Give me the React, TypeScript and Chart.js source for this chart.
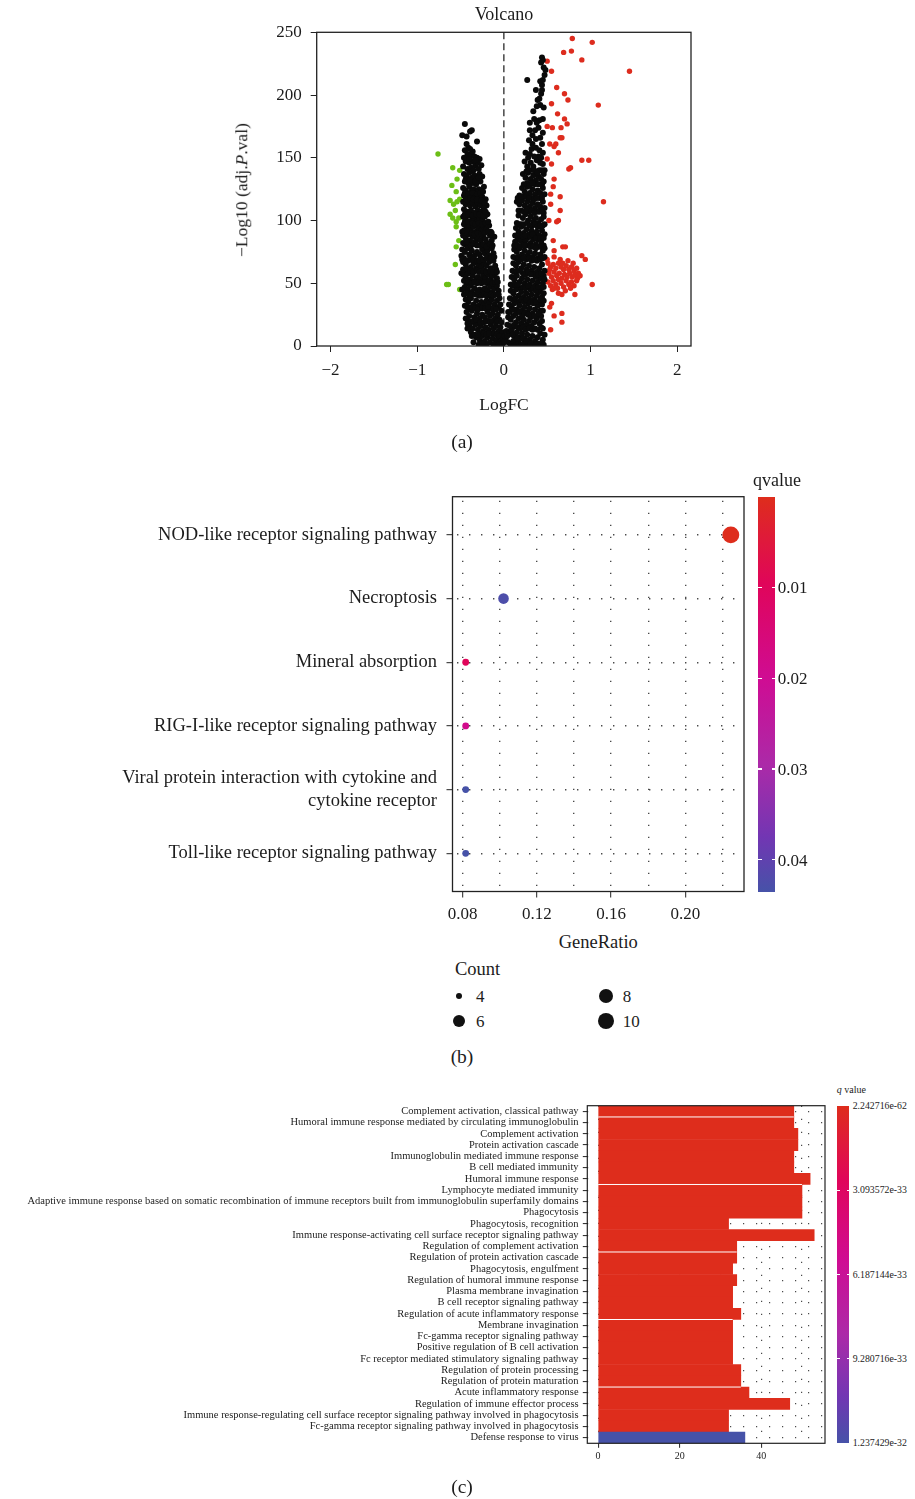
import React, { useEffect, useRef } from "react";
import { Chart, registerables } from "chart.js";
Chart.register(...registerables);

const FONT = "'Liberation Serif', 'Times New Roman', serif";
const TXT = "#1c1c1c";
const RED = "#DD2C1E";
const GREEN = "#6CBE16";

// ---------------- Panel (a): volcano ----------------
const volcanoXTicks = [-2, -1, 0, 1, 2];
const volcanoYTicks = [0, 50, 100, 150, 200, 250];

const volcanoNsLeft: [number, number][] = [
  [-0.45,177],[-0.48,168],[-0.39,171],[-0.37,172],[-0.43,167],[-0.31,163],
  [-0.43,161],[-0.41,158],[-0.45,156],[-0.42,153],[-0.38,152],[-0.34,151],[-0.31,150],[-0.46,150],[-0.28,149],
  [-0.44,147],[-0.40,146],[-0.36,147],[-0.33,144],[-0.30,146],[-0.47,143],[-0.42,141],[-0.38,142],[-0.35,140],[-0.29,141],[-0.26,144],
  [-0.46,137],[-0.43,135],[-0.40,138],[-0.37,134],[-0.34,136],[-0.31,133],[-0.28,137],[-0.25,135],[-0.45,131],[-0.41,130],[-0.36,130],[-0.32,129],[-0.27,131],
  [-0.47,126],[-0.44,124],[-0.40,127],[-0.38,123],[-0.35,125],[-0.32,122],[-0.29,125],[-0.26,124],[-0.23,127],[-0.46,120],[-0.42,119],[-0.37,119],[-0.33,118],[-0.28,120],[-0.25,119],
  [-0.47,115],[-0.44,113],[-0.41,116],[-0.39,112],[-0.36,114],[-0.33,111],[-0.30,114],[-0.27,112],[-0.24,115],[-0.21,117],[-0.20,112],[-0.46,109],[-0.42,107],[-0.38,108],[-0.34,106],[-0.30,108],[-0.26,107],[-0.23,110],
  [-0.47,103],[-0.44,101],[-0.40,104],[-0.37,100],[-0.34,102],[-0.31,99],[-0.28,102],[-0.25,100],[-0.22,103],[-0.19,105],
  [-0.46,97],[-0.43,94],[-0.40,96],[-0.38,92],[-0.35,95],[-0.32,91],[-0.29,94],[-0.26,92],[-0.23,95],[-0.20,93],[-0.17,96],[-0.15,91],[-0.48,91],[-0.11,87],
  [-0.47,88],[-0.44,86],[-0.41,89],[-0.39,84],[-0.36,87],[-0.33,83],[-0.30,86],[-0.27,84],[-0.24,87],[-0.21,85],[-0.19,82],[-0.16,88],[-0.14,84],[-0.45,81],[-0.42,80],
  [-0.48,77],[-0.45,75],[-0.42,78],[-0.40,73],[-0.37,76],[-0.34,72],[-0.31,75],[-0.28,73],[-0.25,77],[-0.22,74],[-0.19,76],[-0.17,72],[-0.14,78],[-0.12,74],[-0.49,72],[-0.46,70],[-0.36,70],[-0.27,70],
  [-0.47,67],[-0.44,65],[-0.41,68],[-0.38,63],[-0.35,66],[-0.32,62],[-0.29,65],[-0.26,63],[-0.23,66],[-0.20,64],[-0.17,67],[-0.15,62],[-0.12,68],[-0.10,64],[-0.09,61],[-0.45,60],[-0.33,60],[-0.22,60],
  [-0.47,57],[-0.44,55],[-0.41,58],[-0.39,53],[-0.36,56],[-0.33,52],[-0.30,55],[-0.27,53],[-0.24,56],[-0.21,54],[-0.18,57],[-0.15,53],[-0.13,56],[-0.10,58],[-0.08,54],[-0.49,58],[-0.43,50],[-0.31,50],[-0.19,50],
  [-0.45,47],[-0.42,45],[-0.39,48],[-0.37,43],[-0.34,46],[-0.31,42],[-0.28,45],[-0.25,43],[-0.22,46],[-0.19,44],[-0.16,47],[-0.13,43],[-0.11,46],[-0.08,48],[-0.06,44],[-0.48,45],[-0.40,40],[-0.29,40],[-0.17,40],
  [-0.44,37],[-0.41,35],[-0.38,38],[-0.35,33],[-0.32,36],[-0.29,32],[-0.26,35],[-0.23,33],[-0.20,36],[-0.17,34],[-0.14,37],[-0.11,33],[-0.08,36],[-0.05,38],[-0.39,30],[-0.27,30],[-0.15,30],[-0.06,31],
  [-0.43,27],[-0.40,24],[-0.37,28],[-0.34,23],[-0.31,26],[-0.28,22],[-0.25,25],[-0.22,23],[-0.19,27],[-0.16,24],[-0.13,26],[-0.10,22],[-0.07,25],[-0.05,21],[-0.03,28],[-0.41,20],[-0.30,20],[-0.18,20],
  [-0.40,16],[-0.36,14],[-0.33,17],[-0.30,13],[-0.27,16],[-0.24,12],[-0.21,15],[-0.18,13],[-0.15,17],[-0.12,14],[-0.09,16],[-0.06,12],[-0.04,15],[-0.02,11],[-0.38,11],[-0.26,10],[-0.14,10],
  [-0.32,7],[-0.28,5],[-0.25,8],[-0.22,4],[-0.19,7],[-0.16,3],[-0.13,6],[-0.10,2],[-0.08,5],[-0.05,3],[-0.03,7],[-0.01,2],[-0.20,1],[-0.12,1],[-0.06,1],[-0.35,3],[-0.42,14],[-0.44,22],
  // second pass of the left arm
  [-0.44,150],[-0.40,149],[-0.36,155],[-0.33,148],[-0.39,157],
  [-0.44,133],[-0.39,132],[-0.33,131],[-0.29,134],
  [-0.45,122],[-0.41,121],[-0.36,122],[-0.31,121],[-0.27,122],[-0.24,123],
  [-0.44,117],[-0.39,118],[-0.35,117],[-0.31,117],[-0.26,116],[-0.22,114],
  [-0.45,105],[-0.41,105],[-0.36,104],[-0.32,105],[-0.28,105],[-0.24,104],[-0.21,107],
  [-0.45,99],[-0.41,99],[-0.36,98],[-0.33,97],[-0.29,98],[-0.25,97],[-0.21,98],[-0.18,99],
  [-0.46,92],[-0.42,91],[-0.37,90],[-0.34,89],[-0.30,90],[-0.26,89],[-0.22,90],[-0.18,91],[-0.14,90],
  [-0.47,82],[-0.43,83],[-0.38,80],[-0.35,81],[-0.31,80],[-0.27,80],[-0.24,81],[-0.20,79],[-0.16,81],[-0.13,80],
  [-0.48,69],[-0.44,68],[-0.39,70],[-0.35,69],[-0.31,68],[-0.28,68],[-0.24,69],[-0.20,70],[-0.15,70],[-0.11,71],
  [-0.47,61],[-0.43,62],[-0.39,60],[-0.35,59],[-0.31,60],[-0.28,59],[-0.24,60],[-0.20,59],[-0.16,60],[-0.12,59],[-0.08,59],
  [-0.46,52],[-0.41,51],[-0.37,50],[-0.34,51],[-0.29,51],[-0.26,50],[-0.22,51],[-0.17,52],[-0.13,50],[-0.10,51],[-0.07,51],
  [-0.46,41],[-0.43,42],[-0.38,41],[-0.33,41],[-0.30,43],[-0.26,40],[-0.23,41],[-0.20,40],[-0.15,41],[-0.12,40],[-0.09,41],[-0.06,41],
  [-0.45,32],[-0.42,31],[-0.37,31],[-0.33,30],[-0.30,29],[-0.25,30],[-0.21,30],[-0.18,31],[-0.12,30],[-0.09,29],[-0.04,33],
  [-0.42,18],[-0.38,19],[-0.35,20],[-0.32,21],[-0.27,19],[-0.23,19],[-0.20,20],[-0.16,19],[-0.13,20],[-0.09,19],[-0.07,20],[-0.03,19],
  [-0.37,8],[-0.34,9],[-0.30,9],[-0.23,10],[-0.20,9],[-0.17,10],[-0.11,10],[-0.08,9],[-0.05,8],[-0.01,6],[-0.29,1],[-0.25,2],[-0.03,1],
];

const volcanoNsRight: [number, number][] = [
  [0.44,230],[0.45,228],[0.43,226],[0.48,220],[0.47,216],[0.27,212],[0.45,212],[0.44,208],[0.37,204],[0.43,201],[0.41,197],[0.42,192],[0.38,191],[0.34,187],[0.45,181],[0.41,180],[0.30,178],[0.30,172],[0.36,172],[0.40,174],[0.42,166],[0.33,161],[0.44,161],[0.25,154],[0.32,157],[0.45,154],[0.37,158],[0.40,151],[0.28,150],[0.34,143],[0.45,145],[0.38,148],[0.42,146],[0.31,146],[0.24,147],[0.27,143],[0.47,140],
  [0.22,137],[0.25,134],[0.28,138],[0.31,133],[0.34,136],[0.37,132],[0.40,135],[0.43,133],[0.46,137],[0.27,130],[0.36,129],[0.44,129],[0.41,140],
  [0.21,126],[0.24,123],[0.27,127],[0.30,122],[0.33,125],[0.36,121],[0.39,124],[0.42,122],[0.45,126],[0.47,121],[0.23,119],[0.32,118],[0.41,118],[0.18,120],
  [0.15,115],[0.18,113],[0.21,116],[0.24,112],[0.27,115],[0.30,111],[0.33,114],[0.36,110],[0.39,113],[0.42,111],[0.45,115],[0.47,110],[0.20,108],[0.29,107],[0.38,107],[0.46,106],
  [0.17,104],[0.22,102],[0.25,105],[0.28,100],[0.31,103],[0.34,99],[0.37,102],[0.40,98],[0.43,101],[0.46,103],[0.20,97],[0.33,96],
  [0.14,94],[0.17,91],[0.20,95],[0.23,90],[0.26,93],[0.29,89],[0.32,92],[0.35,88],[0.38,91],[0.41,88],[0.44,92],[0.47,89],[0.45,96],[0.16,86],[0.27,86],[0.39,85],
  [0.13,83],[0.19,84],[0.22,81],[0.25,84],[0.31,82],[0.34,85],[0.37,81],[0.43,83],[0.46,80],[0.28,80],[0.40,79],
  [0.12,77],[0.15,75],[0.18,78],[0.21,73],[0.24,76],[0.27,72],[0.30,75],[0.33,71],[0.36,74],[0.39,70],[0.42,73],[0.45,76],[0.47,71],[0.14,70],[0.26,69],[0.38,68],
  [0.11,66],[0.14,64],[0.17,67],[0.20,62],[0.23,65],[0.26,61],[0.29,64],[0.32,60],[0.35,63],[0.38,59],[0.41,62],[0.44,65],[0.47,60],[0.10,60],[0.22,58],[0.34,57],[0.46,56],
  [0.09,55],[0.12,53],[0.15,56],[0.18,51],[0.21,54],[0.24,50],[0.27,53],[0.30,49],[0.33,52],[0.36,48],[0.39,51],[0.42,54],[0.45,50],[0.47,53],[0.08,49],[0.19,46],[0.31,45],[0.43,46],
  [0.08,44],[0.11,42],[0.14,45],[0.17,40],[0.20,43],[0.23,39],[0.26,42],[0.29,38],[0.32,41],[0.35,37],[0.38,40],[0.41,43],[0.44,39],[0.46,42],[0.07,38],[0.17,35],[0.28,34],[0.40,34],
  [0.06,33],[0.09,31],[0.12,34],[0.15,29],[0.18,32],[0.21,28],[0.24,31],[0.27,27],[0.30,30],[0.33,26],[0.36,29],[0.39,32],[0.42,28],[0.44,33],[0.05,27],
  [0.05,23],[0.08,21],[0.11,24],[0.14,19],[0.17,22],[0.20,18],[0.23,21],[0.26,17],[0.29,20],[0.32,16],[0.35,19],[0.38,22],[0.41,18],[0.43,24],[0.04,17],[0.10,15],
  [0.03,12],[0.06,10],[0.09,13],[0.12,8],[0.15,11],[0.18,7],[0.21,10],[0.24,6],[0.27,9],[0.30,5],[0.33,8],[0.36,4],[0.39,7],[0.42,10],[0.45,5],[0.02,6],[0.05,3],[0.08,1],[0.11,4],[0.14,1],[0.17,3],[0.20,1],[0.23,2],[0.28,1],[0.34,1],[0.40,2],[0.00,3],[0.01,8],[0.47,9],[0.45,14],[0.44,20],
  // second pass of the right arm
  [0.46,222],[0.42,211],[0.44,204],[0.39,196],[0.46,190],[0.35,181],[0.38,178],[0.45,170],[0.33,168],[0.37,165],[0.29,164],[0.41,156],[0.35,151],[0.30,153],[0.43,150],
  [0.30,140],[0.26,139],[0.35,140],[0.39,138],[0.44,140],
  [0.23,129],[0.30,128],[0.33,130],[0.40,129],[0.46,131],
  [0.16,118],[0.20,119],[0.26,119],[0.29,118],[0.35,117],[0.38,118],[0.44,118],
  [0.17,108],[0.23,107],[0.26,109],[0.32,108],[0.35,106],[0.41,107],[0.44,108],
  [0.15,98],[0.18,97],[0.23,97],[0.27,98],[0.30,96],[0.36,97],[0.39,95],[0.42,96],[0.47,97],
  [0.13,88],[0.19,88],[0.22,87],[0.25,88],[0.31,87],[0.33,89],[0.37,86],[0.42,86],[0.46,86],
  [0.12,80],[0.16,80],[0.19,79],[0.24,80],[0.31,79],[0.34,79],[0.37,78],[0.43,79],[0.47,78],
  [0.11,71],[0.17,71],[0.20,69],[0.23,70],[0.29,70],[0.32,68],[0.35,69],[0.42,69],[0.45,70],
  [0.12,59],[0.15,60],[0.18,60],[0.25,57],[0.28,59],[0.31,57],[0.37,55],[0.40,57],[0.43,58],
  [0.10,48],[0.13,49],[0.16,49],[0.22,47],[0.25,46],[0.28,48],[0.34,46],[0.37,44],[0.40,47],[0.46,47],
  [0.10,37],[0.13,38],[0.20,37],[0.23,35],[0.26,37],[0.31,35],[0.34,34],[0.37,35],[0.42,37],[0.46,36],
  [0.07,27],[0.11,29],[0.14,26],[0.18,27],[0.21,24],[0.24,26],[0.28,25],[0.31,23],[0.35,24],[0.40,26],[0.45,28],
  [0.07,16],[0.12,17],[0.16,15],[0.19,14],[0.22,15],[0.25,13],[0.29,14],[0.33,13],[0.36,14],[0.39,13],[0.43,15],
  [0.04,8],[0.10,9],[0.16,6],[0.22,6],[0.26,4],[0.31,2],[0.37,1],[0.43,2],[0.46,1],
];

const volcanoDown: [number, number][] = [
  [-0.76,153],[-0.59,142],[-0.51,140],[-0.54,133],[-0.60,128],[-0.55,123],[-0.62,116],[-0.51,117],[-0.54,115],[-0.58,113],[-0.56,108],[-0.62,105],[-0.59,102],[-0.52,102],[-0.55,99],[-0.55,95],[-0.52,84],[-0.55,79],[-0.56,65],[-0.66,49],[-0.64,49],[-0.51,45],
];

const volcanoUp: [number, number][] = [
  [0.79,245],[1.02,242],[0.78,235],[0.69,234],[0.90,228],[0.50,227],[0.55,219],[1.45,219],[0.61,206],[0.70,201],[0.74,196],[0.55,193],[1.09,192],[0.62,185],[0.70,181],[0.73,177],[0.50,175],[0.56,174],[0.66,174],[0.65,166],[0.67,166],[0.53,161],[0.58,159],[0.60,161],[0.63,154],[0.90,148],[0.98,148],[0.50,149],[0.55,145],[0.77,142],[0.75,141],[0.58,133],[0.57,127],[0.54,121],[0.65,119],[1.15,115],[0.54,113],[0.65,108],[0.63,100],[0.52,100],[0.61,99],[0.57,84],[0.58,76],[0.68,79],[0.71,79],[0.90,72],[0.94,69],[0.50,69],[0.58,71],
  [0.51,66],[0.54,63],[0.57,65],[0.60,62],[0.63,66],[0.66,63],[0.69,61],[0.72,64],[0.75,61],[0.78,63],[0.81,60],[0.84,62],[0.52,58],[0.55,55],[0.58,59],[0.61,56],[0.64,58],[0.67,54],[0.70,57],[0.73,55],[0.76,58],[0.79,55],[0.82,57],[0.85,54],[0.88,56],[0.51,51],[0.54,48],[0.57,52],[0.60,49],[0.63,53],[0.66,50],[0.69,47],[0.72,52],[0.75,49],[0.78,51],[0.81,48],[0.84,52],[0.56,45],[0.62,46],[0.71,44],[0.77,46],[0.86,58],[0.53,61],[0.74,68],[0.65,69],[0.80,66],[0.58,46],[0.68,66],
  [1.02,49],[0.63,42],[0.82,41],[0.67,41],[0.53,31],[0.58,24],[0.67,26],[0.67,19],[0.54,13],[0.77,47],[0.87,56],[0.55,34],
];

// ---------------- Panel (b): KEGG dot plot ----------------
const keggPathways: (string | string[])[] = [
  "NOD-like receptor signaling pathway",
  "Necroptosis",
  "Mineral absorption",
  "RIG-I-like receptor signaling pathway",
  ["Viral protein interaction with cytokine and", "cytokine receptor"],
  "Toll-like receptor signaling pathway",
];
const keggGeneRatio = [0.2245, 0.1020, 0.0816, 0.0816, 0.0816, 0.0816];
const keggCount = [11, 5, 4, 4, 4, 4];
const keggQvalue = [0.00003, 0.0426, 0.0096, 0.0186, 0.0435, 0.0435];
const keggXTicks = [0.08, 0.10, 0.12, 0.14, 0.16, 0.18, 0.20, 0.22];
const keggXLabelTicks = [0.08, 0.12, 0.16, 0.20];
const keggQTicks = [0.01, 0.02, 0.03, 0.04];
const keggQRange = [0.00003, 0.0435];
const countLegend = [4, 6, 8, 10];

// ---------------- Panel (c): GO bar chart ----------------
const goTerms = [
  "Complement activation, classical pathway",
  "Humoral immune response mediated by circulating immunoglobulin",
  "Complement activation",
  "Protein activation cascade",
  "Immunoglobulin mediated immune response",
  "B cell mediated immunity",
  "Humoral immune response",
  "Lymphocyte mediated immunity",
  "Adaptive immune response based on somatic recombination of immune receptors built from immunoglobulin superfamily domains",
  "Phagocytosis",
  "Phagocytosis, recognition",
  "Immune response-activating cell surface receptor signaling pathway",
  "Regulation of complement activation",
  "Regulation of protein activation cascade",
  "Phagocytosis, engulfment",
  "Regulation of humoral immune response",
  "Plasma membrane invagination",
  "B cell receptor signaling pathway",
  "Regulation of acute inflammatory response",
  "Membrane invagination",
  "Fc-gamma receptor signaling pathway",
  "Positive regulation of B cell activation",
  "Fc receptor mediated stimulatory signaling pathway",
  "Regulation of protein processing",
  "Regulation of protein maturation",
  "Acute inflammatory response",
  "Regulation of immune effector process",
  "Immune response-regulating cell surface receptor signaling pathway involved in phagocytosis",
  "Fc-gamma receptor signaling pathway involved in phagocytosis",
  "Defense response to virus",
];
const goCounts = [48, 48, 49, 49, 48, 48, 52, 50, 50, 50, 32, 53, 34, 34, 33, 34, 33, 33, 35, 33, 33, 33, 33, 35, 35, 37, 47, 32, 32, 36];
const goQvalue = [
  2.242716e-62, 2.2e-62, 3.1e-62, 3.1e-62, 5e-61, 5e-61, 1e-59, 2e-58, 2e-58, 1e-57,
  3e-52, 2e-55, 4e-52, 4e-52, 8e-51, 4e-52, 8e-51, 8e-51, 2e-50, 8e-51,
  8e-51, 8e-51, 8e-51, 3e-50, 3e-50, 5e-49, 2e-48, 4e-45, 4e-45, 1.237429e-32,
];
const goQTickValues = [2.242716e-62, 3.093572e-33, 6.187144e-33, 9.280716e-33, 1.237429e-32];
const goQTickLabels = ["2.242716e-62", "3.093572e-33", "6.187144e-33", "9.280716e-33", "1.237429e-32"];
const goXTicks = [0, 10, 20, 30, 40, 50];
const goXLabelTicks = [0, 20, 40];

// ---------------- styling helpers ----------------
const GRADIENT: [number, string][] = [
  [0, "#DE2D1C"], [0.22, "#E0055A"], [0.46, "#CF0C93"], [0.68, "#AB2AA8"], [0.86, "#7236B3"], [1, "#4652A8"],
];
const cssGradient = "linear-gradient(to bottom, " + GRADIENT.map(([t, c]) => `${c} ${t * 100}%`).join(", ") + ")";
function hex(c: string) { return [1, 3, 5].map((i) => parseInt(c.slice(i, i + 2), 16)); }
function gradColor(t: number) {
  t = Math.max(0, Math.min(1, t));
  for (let i = 1; i < GRADIENT.length; i++) {
    const [t1, c1] = GRADIENT[i];
    const [t0, c0] = GRADIENT[i - 1];
    if (t <= t1) {
      const f = (t - t0) / (t1 - t0);
      const a = hex(c0), b = hex(c1);
      return `rgb(${a.map((v, k) => Math.round(v + (b[k] - v) * f)).join(",")})`;
    }
  }
  return GRADIENT[GRADIENT.length - 1][1];
}
const countRadius = (c: number) => 3.4 + 1.9 * Math.sqrt(Math.max(0, c - 4));
const near = (a: number, list: number[]) => list.some((v) => Math.abs(v - a) < 1e-9);
const fmtMinus = (v: number) => (v < 0 ? "\u2212" + Math.abs(v) : String(v));
const DOTTED = [1.4, 10.6];
const DOT_COLOR = "#4a4a4a";

const framePlugin = {
  id: "frame",
  afterDatasetsDraw(chart: any, _a: any, opts: any) {
    const { ctx, chartArea: a } = chart;
    ctx.save();
    ctx.strokeStyle = opts.color || "#222";
    ctx.lineWidth = opts.width || 1.2;
    ctx.setLineDash([]);
    ctx.strokeRect(a.left, a.top, a.right - a.left, a.bottom - a.top);
    ctx.restore();
  },
};
const zeroLinePlugin = {
  id: "zeroLine",
  beforeDatasetsDraw(chart: any) {
    const { ctx, chartArea: a, scales } = chart;
    const x = scales.x.getPixelForValue(0);
    ctx.save();
    ctx.strokeStyle = "#3a3a3a";
    ctx.lineWidth = 1.4;
    ctx.setLineDash([7, 4]);
    ctx.beginPath();
    ctx.moveTo(x, a.top);
    ctx.lineTo(x, a.bottom);
    ctx.stroke();
    ctx.restore();
  },
};
const seamRows = [0, 6, 12, 18, 24];
const seamPlugin = {
  id: "seams",
  afterDatasetsDraw(chart: any) {
    const { ctx, scales } = chart;
    ctx.save();
    ctx.strokeStyle = "#ffffff";
    ctx.lineWidth = 1;
    seamRows.forEach((i) => {
      const y = (scales.y.getPixelForValue(i) + scales.y.getPixelForValue(i + 1)) / 2;
      ctx.beginPath();
      ctx.moveTo(scales.x.getPixelForValue(0), y);
      ctx.lineTo(scales.x.getPixelForValue(Math.min(goCounts[i], goCounts[i + 1])), y);
      ctx.stroke();
    });
    ctx.restore();
  },
};

const noPlugins = { legend: { display: false }, tooltip: { enabled: false } };

function volcanoConfig(): any {
  const pts = (arr: [number, number][]) => arr.map(([x, y]) => ({ x, y }));
  const ds = (data: any[], color: string, r: number) => ({
    data, pointBackgroundColor: color, pointBorderWidth: 0, pointRadius: r, pointHoverRadius: r,
  });
  return {
    type: "scatter",
    data: {
      datasets: [
        ds(pts([...volcanoNsLeft, ...volcanoNsRight]), "#0a0a0a", 3.0),
        ds(pts(volcanoDown), GREEN, 2.7),
        ds(pts(volcanoUp), RED, 2.7),
      ],
    },
    options: {
      responsive: false, animation: false, events: [],
      layout: { padding: { left: 0, top: 32.3, right: 9, bottom: 0 } },
      plugins: { ...noPlugins, frame: { width: 1.3 } },
      scales: {
        x: {
          type: "linear", min: -2.16, max: 2.16,
          afterBuildTicks: (s: any) => { s.ticks = volcanoXTicks.map((v) => ({ value: v })); },
          afterFit: (s: any) => { s.height = 74; },
          ticks: { padding: 8, font: { size: 17 }, color: TXT, maxRotation: 0, autoSkip: false, callback: (v: any) => fmtMinus(v) },
          grid: { display: true, drawOnChartArea: false, drawTicks: true, tickLength: 6, tickColor: "#222", tickWidth: 1 },
          border: { display: false },
        },
        y: {
          type: "linear", min: 0, max: 250,
          afterBuildTicks: (s: any) => { s.ticks = volcanoYTicks.map((v) => ({ value: v })); },
          afterFit: (s: any) => { s.width = 86.7; },
          ticks: { padding: 9, font: { size: 17 }, color: TXT, autoSkip: false, callback: (v: any) => String(v) },
          grid: { display: true, drawOnChartArea: false, drawTicks: true, tickLength: 6, tickColor: "#222", tickWidth: 1 },
          border: { display: false },
        },
      },
    },
    plugins: [zeroLinePlugin, framePlugin],
  };
}

function keggConfig(): any {
  const span = keggQRange[1] - keggQRange[0];
  return {
    type: "scatter",
    data: {
      datasets: [{
        data: keggGeneRatio.map((x, i) => ({ x, y: i + 1 })),
        pointRadius: keggCount.map(countRadius),
        pointHoverRadius: keggCount.map(countRadius),
        pointBackgroundColor: keggQvalue.map((q) => gradColor((q - keggQRange[0]) / span)),
        pointBorderWidth: 0,
      }],
    },
    options: {
      responsive: false, animation: false, events: [],
      layout: { padding: { left: 0, top: 26.7, right: 16, bottom: 0 } },
      plugins: { ...noPlugins, frame: { width: 1.3 } },
      scales: {
        x: {
          type: "linear", min: 0.0745, max: 0.2316,
          afterBuildTicks: (s: any) => { s.ticks = keggXTicks.map((v) => ({ value: v })); },
          afterFit: (s: any) => { s.height = 38.5; },
          ticks: {
            padding: 6.5, font: { size: 17 }, color: TXT, maxRotation: 0, autoSkip: false,
            callback: (v: any) => (near(v, keggXLabelTicks) ? Number(v).toFixed(2) : ""),
          },
          grid: {
            display: true, drawOnChartArea: true, drawTicks: true, tickLength: 6, tickWidth: 1, tickBorderDash: [],
            tickColor: (c: any) => (c.tick && near(c.tick.value, keggXLabelTicks) ? "#222" : "rgba(0,0,0,0)"),
            color: DOT_COLOR, lineWidth: 1.4,
          },
          border: { display: false, dash: DOTTED, dashOffset: -4 },
        },
        y: {
          type: "linear", min: 0.4, max: 6.6, reverse: true,
          afterBuildTicks: (s: any) => { s.ticks = keggPathways.map((_, i) => ({ value: i + 1 })); },
          afterFit: (s: any) => { s.width = 452.5; },
          ticks: {
            padding: 9.5, font: { size: 18.5, lineHeight: 1.25 }, color: TXT, autoSkip: false,
            callback: (v: any) => keggPathways[Math.round(v) - 1] ?? "",
          },
          grid: {
            display: true, drawOnChartArea: true, drawTicks: true, tickLength: 6, tickWidth: 1, tickColor: "#222", tickBorderDash: [],
            color: DOT_COLOR, lineWidth: 1.4,
          },
          border: { display: false, dash: DOTTED, dashOffset: -4 },
        },
      },
    },
    plugins: [framePlugin],
  };
}

function goConfig(): any {
  const span = goQTickValues[4] - goQTickValues[0];
  return {
    type: "bar",
    data: {
      labels: goTerms,
      datasets: [{
        data: goCounts,
        backgroundColor: goQvalue.map((q) => gradColor((q - goQTickValues[0]) / span)),
        borderWidth: 0, barPercentage: 1, categoryPercentage: 1,
      }],
    },
    options: {
      indexAxis: "y",
      responsive: false, animation: false, events: [],
      layout: { padding: { left: 0, top: 25.7, right: 10, bottom: 0 } },
      plugins: { ...noPlugins, frame: { width: 1.2 } },
      scales: {
        x: {
          type: "linear", min: -2.65, max: 55.65,
          afterBuildTicks: (s: any) => { s.ticks = goXTicks.map((v) => ({ value: v })); },
          afterFit: (s: any) => { s.height = 36.7; },
          ticks: {
            padding: 2.5, font: { size: 10 }, color: TXT, maxRotation: 0, autoSkip: false,
            callback: (v: any) => (near(v, goXLabelTicks) ? String(v) : ""),
          },
          grid: {
            display: true, drawOnChartArea: true, drawTicks: true, tickLength: 4.5, tickWidth: 1, tickBorderDash: [],
            tickColor: (c: any) => (c.tick && near(c.tick.value, goXLabelTicks) ? "#222" : "rgba(0,0,0,0)"),
            color: DOT_COLOR, lineWidth: 1.2,
          },
          border: { display: false, dash: [1.2, 11.8] },
        },
        y: {
          type: "category",
          afterFit: (s: any) => { s.width = 587.3; },
          ticks: { padding: 4.2, font: { size: 10.5 }, color: TXT, autoSkip: false },
          grid: {
            display: true, offset: false, drawOnChartArea: true, drawTicks: true, tickLength: 4.5, tickWidth: 1, tickColor: "#222", tickBorderDash: [],
            color: DOT_COLOR, lineWidth: 1.2,
          },
          border: { display: false, dash: [1.2, 11.8] },
        },
      },
    },
    plugins: [seamPlugin, framePlugin],
  };
}

// ---------------- HTML text helpers ----------------
type Anchor = "middle" | "start" | "end";
function Label(props: { x: number; y: number; size: number; anchor?: Anchor; rotate?: number; children: any; style?: any }) {
  const { x, y, size, anchor = "middle", rotate = 0, children, style } = props;
  const tx = anchor === "middle" ? "-50%" : anchor === "start" ? "0" : "-100%";
  return (
    <div
      style={{
        position: "absolute", left: x, top: y, fontSize: size, lineHeight: 1, whiteSpace: "nowrap",
        transform: `translate(${tx}, -50%)` + (rotate ? ` rotate(${rotate}deg)` : ""),
        transformOrigin: anchor === "middle" ? "50% 50%" : "0 50%",
        color: TXT, ...style,
      }}
    >
      {children}
    </div>
  );
}

function ColorBar(props: { left: number; top: number; width: number; height: number; ticks: number[]; range: number[]; labels: string[]; size: number; labelGap: number }) {
  const { left, top, width, height, ticks, range, labels, size, labelGap } = props;
  const span = range[1] - range[0];
  return (
    <>
      <div style={{ position: "absolute", left, top, width, height, background: cssGradient }} />
      {ticks.map((v, i) => {
        const y = top + ((v - range[0]) / span) * height;
        const tw = Math.max(2.5, width * 0.2);
        return (
          <React.Fragment key={i}>
            {y > top + 1 && y < top + height - 1 ? (
              <>
                <div style={{ position: "absolute", left, top: y - 0.6, width: tw, height: 1.2, background: "#fff" }} />
                <div style={{ position: "absolute", left: left + width - tw, top: y - 0.6, width: tw, height: 1.2, background: "#fff" }} />
              </>
            ) : null}
            <Label x={left + width + labelGap} y={y} size={size} anchor="start">{labels[i]}</Label>
          </React.Fragment>
        );
      })}
    </>
  );
}

export default function App() {
  const aRef = useRef<HTMLCanvasElement>(null);
  const bRef = useRef<HTMLCanvasElement>(null);
  const cRef = useRef<HTMLCanvasElement>(null);

  useEffect(() => {
    Chart.defaults.font.family = FONT;
    Chart.defaults.color = TXT;
    const charts = [
      new Chart(aRef.current as HTMLCanvasElement, volcanoConfig()),
      new Chart(bRef.current as HTMLCanvasElement, keggConfig()),
      new Chart(cRef.current as HTMLCanvasElement, goConfig()),
    ];
    return () => charts.forEach((c) => c.destroy());
  }, []);

  const canvasStyle = (left: number, top: number, w: number, h: number): any => ({
    position: "absolute", left, top, width: w, height: h,
  });

  return (
    <div style={{ position: "absolute", left: 0, top: 0, width: 915, height: 1499, background: "#fff", fontFamily: FONT, overflow: "hidden" }}>
      {/* Panel (a) */}
      <canvas ref={aRef} width={470} height={420} style={canvasStyle(230, 0, 470, 420)} />
      <Label x={504} y={14} size={18}>Volcano</Label>
      <Label x={241.7} y={190} size={17.5} rotate={-90}>
        {"\u2212Log10 (adj."}<i>P</i>{".val)"}
      </Label>
      <Label x={504} y={405} size={17.5}>LogFC</Label>
      <Label x={462} y={442} size={19.5}>(a)</Label>

      {/* Panel (b) */}
      <canvas ref={bRef} width={760} height={460} style={canvasStyle(0, 470, 760, 460)} />
      <Label x={753} y={480} size={18} anchor="start">qvalue</Label>
      <ColorBar
        left={758.3} top={496.7} width={16.7} height={395}
        ticks={keggQTicks} range={keggQRange} labels={keggQTicks.map((v) => v.toFixed(2))}
        size={17} labelGap={2.7}
      />
      <Label x={598.3} y={941.7} size={18.5}>GeneRatio</Label>
      <Label x={455} y={969} size={18.5} anchor="start">Count</Label>
      {countLegend.map((c, i) => {
        const cx = i < 2 ? 459 : 605.7;
        const cy = i % 2 === 0 ? 996 : 1021;
        const r = countRadius(c);
        return (
          <React.Fragment key={c}>
            <div style={{ position: "absolute", left: cx - r, top: cy - r, width: 2 * r, height: 2 * r, borderRadius: "50%", background: "#111" }} />
            <Label x={cx + 17} y={cy} size={17} anchor="start">{String(c)}</Label>
          </React.Fragment>
        );
      })}
      <Label x={462} y={1057} size={19.5}>(b)</Label>

      {/* Panel (c) */}
      <canvas ref={cRef} width={835} height={400} style={canvasStyle(0, 1080, 835, 400)} />
      <Label x={836.7} y={1090} size={10} anchor="start"><i>q</i> value</Label>
      <ColorBar
        left={837.3} top={1105.7} width={12} height={337.6}
        ticks={goQTickValues} range={[goQTickValues[0], goQTickValues[4]]} labels={goQTickLabels}
        size={9.8} labelGap={3.4}
      />
      <Label x={462} y={1487} size={19.5}>(c)</Label>
    </div>
  );
}
